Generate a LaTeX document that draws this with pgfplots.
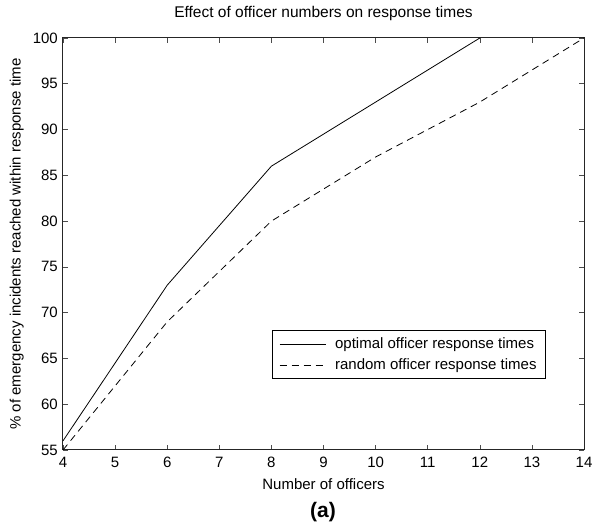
\documentclass[border=0pt]{standalone}
\usepackage{fontspec}
\setmainfont{Liberation Sans}
\usepackage{pgfplots}
\pgfplotsset{compat=1.18}
\begin{document}
\fontsize{15}{18}\selectfont
\begin{tikzpicture}
\begin{axis}[
  scale only axis,
  width=521pt, height=412pt,
  xmin=4, xmax=14, ymin=55, ymax=100,
  xtick={4,5,...,14}, ytick={55,60,...,100},
  tick align=inside,
  major tick length=5pt,
  axis line style={line width=1pt, black!85},
  tick style={black!70, line width=0.6pt},
  /pgf/number format/assume math mode=true,
  ticklabel style={font=\fontsize{15}{18}\selectfont},
  xticklabel style={yshift=-2pt},
  title={Effect of officer numbers on response times},
  title style={at={(axis description cs:0.5,1.0437)}, anchor=center, font=\fontsize{15.5}{18}\selectfont},
  xlabel={Number of officers},
  xlabel style={at={(axis description cs:0.5,-0.082)}, anchor=center, font=\fontsize{15}{18}\selectfont},
  ylabel={\% of emergency incidents reached within response time},
  ylabel style={at={(axis description cs:-0.089,0.5)}, anchor=center, rotate=0, font=\fontsize{15}{18}\selectfont},
  legend style={at={(axis description cs:0.927,0.172)}, anchor=south east,
    draw=black, line width=0.8pt, font=\fontsize{15}{18}\selectfont,
    inner xsep=7pt, inner ysep=5pt, row sep=4pt, column sep=7pt},
  legend cell align=left,
  legend image code/.code={\draw[#1] (0pt,0pt) -- (46pt,0pt);},
]
\addplot[black, line width=0.8pt] coordinates {(4,56) (6,73) (8,86) (10,93) (12,100)};
\addlegendentry{optimal officer response times}
\addplot[black, line width=0.8pt, dash pattern=on 7pt off 5pt] coordinates {(4,55) (6,69) (8,80) (10,87) (12,93) (14,100)};
\addlegendentry{random officer response times}
\end{axis}
\node[font=\bfseries\fontsize{21}{24}\selectfont] at (260pt,-62pt) {(a)};
\pgfresetboundingbox
\path (-63pt,-76pt) rectangle (530pt,450pt);
\end{tikzpicture}
\end{document}
